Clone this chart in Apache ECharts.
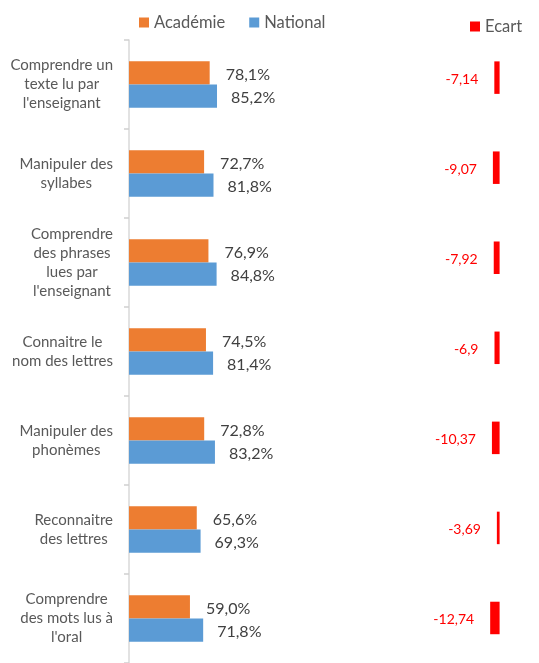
<!DOCTYPE html>
<html>
<head>
<meta charset="utf-8">
<script src="https://cdn.jsdelivr.net/npm/echarts@6/dist/echarts.min.js"></script>
<style>
  html, body { margin: 0; padding: 0; background: #fff; }
  #chart { width: 539px; height: 663px; }
</style>
</head>
<body>
<div id="chart"></div>
<script>
const categories = [
  "Comprendre un\ntexte lu par\nl'enseignant",
  "Manipuler des\nsyllabes",
  "Comprendre\ndes phrases\nlues par\nl'enseignant",
  "Connaitre le\nnom des lettres",
  "Manipuler des\nphonèmes",
  "Reconnaitre\ndes lettres",
  "Comprendre\ndes mots lus à\nl'oral"
];
const academie = [78.1, 72.7, 76.9, 74.5, 72.8, 65.6, 59.0];
const national = [85.2, 81.8, 84.8, 81.4, 83.2, 69.3, 71.8];
const ecart = [-7.14, -9.07, -7.92, -6.9, -10.37, -3.69, -12.74];

const font = "Lato, 'Liberation Sans', sans-serif";
const pct = (p) => p.value.toFixed(1).replace(".", ",") + "%";

const chart = echarts.init(document.getElementById("chart"), null, { renderer: "canvas" });

const option = {
  animation: false,
  backgroundColor: "#fff",
  textStyle: { fontFamily: font },
  legend: [
    {
      data: ["Académie", "National"],
      left: 134,
      top: 9,
      icon: "rect",
      itemWidth: 10,
      itemHeight: 10,
      itemGap: 24,
      textStyle: { fontSize: 16.5, color: "#595959", fontFamily: font }
    },
    {
      data: ["Ecart"],
      left: 465,
      top: 13,
      icon: "rect",
      itemWidth: 10,
      itemHeight: 10,
      textStyle: { fontSize: 16.5, color: "#595959", fontFamily: font }
    }
  ],
  grid: [
    { left: 129, top: 40, width: 103.3, height: 629 },
    { left: 470, top: 32.6, width: 29.6, height: 648 }
  ],
  xAxis: [
    { type: "value", gridIndex: 0, min: 0, max: 100, show: false },
    { type: "value", gridIndex: 1, min: -40, max: 0, interval: 10, show: false }
  ],
  yAxis: [
    {
      type: "category",
      gridIndex: 0,
      inverse: true,
      data: categories,
      offset: 1,
      axisLine: { show: true, lineStyle: { color: "#d9d9d9", width: 1.5 } },
      axisTick: { show: true, interval: 0, length: 5, lineStyle: { color: "#d0d0d0", width: 1.5 } },
      axisLabel: {
        align: "right",
        margin: 15,
        interval: 0,
        formatter: (v) => v.split("\n").map((l) => "{c|" + l + "}").join("\n"),
        rich: {
          c: { align: "center", fontSize: 15, lineHeight: 19, color: "#595959", fontFamily: font }
        }
      }
    },
    {
      type: "category",
      gridIndex: 1,
      inverse: true,
      data: categories,
      show: false
    }
  ],
  series: [
    {
      name: "Académie",
      type: "bar",
      xAxisIndex: 0,
      yAxisIndex: 0,
      data: academie,
      barWidth: 23.3,
      barGap: "0%",
      itemStyle: { color: "#ED7D31" },
      label: {
        show: true,
        position: "right",
        distance: 16,
        offset: [0, 2],
        formatter: pct,
        fontSize: 16,
        color: "#404040",
        fontFamily: font
      }
    },
    {
      name: "National",
      type: "bar",
      xAxisIndex: 0,
      yAxisIndex: 0,
      data: national,
      barWidth: 23.3,
      barGap: "0%",
      itemStyle: { color: "#5B9BD5" },
      label: {
        show: true,
        position: "right",
        distance: 14,
        offset: [0, 2],
        formatter: pct,
        fontSize: 16,
        color: "#404040",
        fontFamily: font
      }
    },
    {
      name: "Ecart",
      type: "bar",
      xAxisIndex: 1,
      yAxisIndex: 1,
      data: ecart,
      barWidth: 32.5,
      itemStyle: { color: "#FF0000" },
      label: {
        show: true,
        position: "left",
        distance: 16,
        offset: [0, 2],
        formatter: (p) => String(p.value).replace(".", ","),
        fontSize: 14,
        color: "#FF0000",
        fontFamily: font
      }
    }
  ]
};

chart.setOption(option);
window.addEventListener("resize", () => chart.resize());
</script>
</body>
</html>
